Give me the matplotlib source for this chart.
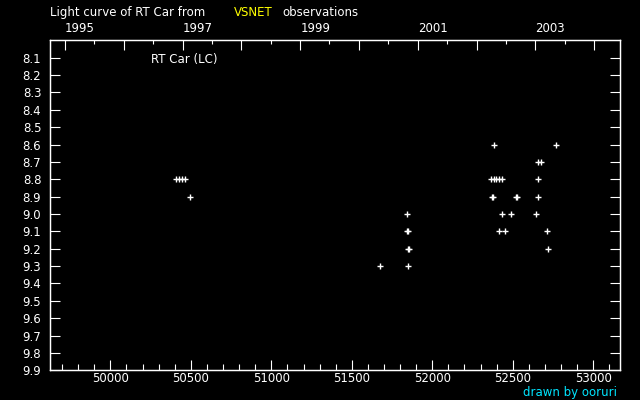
import datetime
import numpy as np
import matplotlib
matplotlib.use("Agg")
import matplotlib.pyplot as plt
from matplotlib.ticker import MultipleLocator

# observations of RT Car (JD - 2400000, visual magnitude)
jd = np.array([50410, 50427, 50444, 50463, 50497,
               51677, 51844, 51843, 51847, 51850, 51855, 51850,
               52385, 52770, 52658, 52677,
               52364, 52381, 52397, 52414, 52431, 52658,
               52370, 52378, 52517, 52525, 52658,
               52434, 52490, 52646,
               52416, 52453, 52714,
               52720])
mag = np.array([8.8, 8.8, 8.8, 8.8, 8.9,
                9.3, 9.0, 9.1, 9.1, 9.2, 9.2, 9.3,
                8.6, 8.6, 8.7, 8.7,
                8.8, 8.8, 8.8, 8.8, 8.8, 8.8,
                8.9, 8.9, 8.9, 8.9, 8.9,
                9.0, 9.0, 9.0,
                9.1, 9.1, 9.1,
                9.2])

years = list(range(1995, 2005))
year_labels = [str(y) if (y - 1995) % 2 == 0 else '' for y in years]
mag_ticks = np.round(np.arange(8.1, 9.95, 0.1), 1)


def jd_of(y, m=1, d=1):
    # JD - 2400000 for a calendar date
    return (datetime.date(y, m, d) - datetime.date(1858, 11, 17)).days + 0.5


plt.rcParams['font.family'] = 'DejaVu Sans'
fig = plt.figure(figsize=(6.4, 4.0), dpi=100, facecolor='black')
ax = fig.add_axes([50.3 / 640, 1 - 370.3 / 400, 570 / 640, 330 / 400])
ax.set_facecolor('black')

ax.plot(jd, mag, '+', color='white', ms=4, mew=1.0)

ax.set_xlim(49627, 53168)
ax.set_ylim(9.9, 8.0)
for s in ax.spines.values():
    s.set_color('white')
    s.set_linewidth(1.0)

ax.xaxis.set_major_locator(MultipleLocator(500))
ax.xaxis.set_minor_locator(MultipleLocator(100))
ax.set_yticks(mag_ticks)
ax.set_yticklabels(['%.1f' % v for v in mag_ticks])
ax.tick_params(axis='x', which='major', direction='in', length=7.2, width=0.8,
               colors='white', labelsize=8.5, pad=1.5, top=False)
ax.tick_params(axis='x', which='minor', direction='in', length=4, width=0.8,
               colors='white', top=False)
ax.tick_params(axis='y', which='major', direction='in', length=7.5, width=0.8,
               colors='white', labelsize=8.5, pad=6.5, right=True)

# top axis: calendar years
ax2 = ax.twiny()
ax2.set_xticks([jd_of(y) for y in years])
ax2.set_xticklabels(year_labels)
ax2.set_xticks([jd_of(y, 7, 1) for y in years[:-1]], minor=True)
ax2.set_xlim(ax.get_xlim())
ax2.tick_params(axis='x', which='major', direction='in', length=7.2, width=0.8,
                colors='white', labelsize=8.5, pad=4)
ax2.tick_params(axis='x', which='minor', direction='in', length=3, width=0.8,
                colors='white')
for lbl in ax2.get_xticklabels():
    lbl.set_ha('left')
for s in ax2.spines.values():
    s.set_color('white')

fig.text(150.7 / 640, 1 - 60 / 400, 'RT Car (LC)', color='white',
         fontsize=8.5, va='center', ha='left')

fig.text(50 / 640, 1 - 12.5 / 400, 'Light curve of RT Car from', color='white',
         fontsize=8.5, va='center', ha='left')
fig.text(234 / 640, 1 - 12.5 / 400, 'VSNET', color='yellow',
         fontsize=8.5, va='center', ha='left')
fig.text(282 / 640, 1 - 12.5 / 400, 'observations', color='white',
         fontsize=8.5, va='center', ha='left')
fig.text(617 / 640, 1 - 392.5 / 400, 'drawn by ooruri', color='#00e5ff',
         fontsize=8.5, va='center', ha='right')

fig.savefig('out.png', dpi=100, facecolor='black')
